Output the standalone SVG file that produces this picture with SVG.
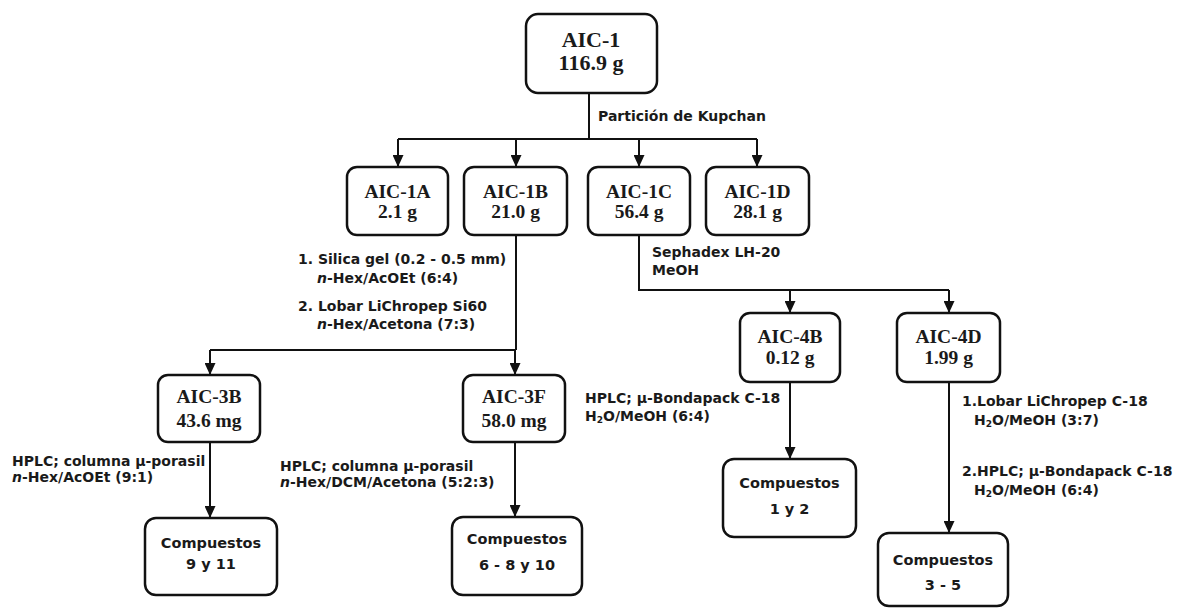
<svg xmlns="http://www.w3.org/2000/svg" width="1179" height="609" viewBox="0 0 1179 609">
<defs>
<marker id="ah" viewBox="0 0 12 11" refX="12" refY="5.5" markerWidth="12" markerHeight="11" markerUnits="userSpaceOnUse" orient="auto">
<path d="M0,0 L12,5.5 L0,11 z" fill="#111"/>
</marker>
<style>
.box{fill:#fff;stroke:#111;stroke-width:2.5}
.ln{fill:none;stroke:#111;stroke-width:2}
.arr{fill:none;stroke:#111;stroke-width:2;marker-end:url(#ah)}
.sv{font-family:"Liberation Serif","Times New Roman",serif;font-weight:bold;font-size:19.5px;fill:#1a1a1a;text-anchor:middle}
.big{font-size:22px}
.lb{font-family:"DejaVu Sans",Verdana,sans-serif;font-weight:bold;font-size:14px;fill:#1a1a1a}
.cp{font-family:"DejaVu Sans",Verdana,sans-serif;font-weight:bold;font-size:14.5px;fill:#1a1a1a;text-anchor:middle}
.it{font-style:italic}
</style>
</defs>
<rect width="1179" height="609" fill="#fff"/>
<g id="connectors">
<path class="ln" d="M589,93 V139 M398,139 H757"/>
<path class="arr" d="M398,139 V167"/>
<path class="arr" d="M516,139 V167"/>
<path class="arr" d="M639,139 V167"/>
<path class="arr" d="M757,139 V167"/>
<path class="ln" d="M516,235 V350 M210,350 H516"/>
<path class="arr" d="M210,350 V375"/>
<path class="arr" d="M515,350 V375"/>
<path class="ln" d="M639,235 V290 H949"/>
<path class="arr" d="M790,290 V313"/>
<path class="arr" d="M949,290 V313"/>
<path class="arr" d="M210,442 V518"/>
<path class="arr" d="M515,442 V517"/>
<path class="arr" d="M790,382 V459"/>
<path class="arr" d="M949,382 V533"/>
</g>
<g id="labels">
<text class="lb" x="598" y="121" font-size="13.5">Partición de Kupchan</text>
<text class="lb" x="298" y="264">1. Silica gel (0.2 - 0.5 mm)</text>
<text class="lb" x="317" y="283"><tspan class="it">n</tspan>-Hex/AcOEt (6:4)</text>
<text class="lb" x="298" y="311">2. Lobar LiChropep Si60</text>
<text class="lb" x="317" y="329"><tspan class="it">n</tspan>-Hex/Acetona (7:3)</text>
<text class="lb" x="652" y="257">Sephadex LH-20</text>
<text class="lb" x="652" y="275">MeOH</text>
<text class="lb" x="12" y="466">HPLC; columna µ-porasil</text>
<text class="lb" x="12" y="482"><tspan class="it">n</tspan>-Hex/AcOEt (9:1)</text>
<text class="lb" x="280" y="471">HPLC; columna µ-porasil</text>
<text class="lb" x="280" y="487"><tspan class="it">n</tspan>-Hex/DCM/Acetona (5:2:3)</text>
<text class="lb" x="585" y="403">HPLC; µ-Bondapack C-18</text>
<text class="lb" x="585" y="421">H<tspan font-size="9" dy="2">2</tspan><tspan dy="-2">O/MeOH (6:4)</tspan></text>
<text class="lb" x="962" y="406">1.Lobar LiChropep C-18</text>
<text class="lb" x="974" y="425">H<tspan font-size="9" dy="2">2</tspan><tspan dy="-2">O/MeOH (3:7)</tspan></text>
<text class="lb" x="962" y="476">2.HPLC; µ-Bondapack C-18</text>
<text class="lb" x="974" y="495">H<tspan font-size="9" dy="2">2</tspan><tspan dy="-2">O/MeOH (6:4)</tspan></text>
</g>
<g id="AIC-1">
<rect class="box" x="526" y="14" width="131" height="79" rx="12"/>
<text class="sv big" x="591" y="47">AIC-1</text>
<text class="sv big" x="591" y="70">116.9 g</text>
</g>
<g id="AIC-1A">
<rect class="box" x="347" y="167" width="101" height="68" rx="10"/>
<text class="sv" x="397.5" y="198">AIC-1A</text>
<text class="sv" x="397.5" y="218">2.1 g</text>
</g>
<g id="AIC-1B">
<rect class="box" x="464" y="167" width="103" height="68" rx="10"/>
<text class="sv" x="515.5" y="198">AIC-1B</text>
<text class="sv" x="515.5" y="218">21.0 g</text>
</g>
<g id="AIC-1C">
<rect class="box" x="588" y="167" width="102" height="68" rx="10"/>
<text class="sv" x="639" y="198">AIC-1C</text>
<text class="sv" x="639" y="218">56.4 g</text>
</g>
<g id="AIC-1D">
<rect class="box" x="706" y="167" width="103" height="68" rx="10"/>
<text class="sv" x="757.5" y="198">AIC-1D</text>
<text class="sv" x="757.5" y="218">28.1 g</text>
</g>
<g id="AIC-3B">
<rect class="box" x="158" y="375" width="102" height="67" rx="10"/>
<text class="sv" x="209" y="403">AIC-3B</text>
<text class="sv" x="209" y="427">43.6 mg</text>
</g>
<g id="AIC-3F">
<rect class="box" x="463" y="375" width="102" height="67" rx="10"/>
<text class="sv" x="514" y="403">AIC-3F</text>
<text class="sv" x="514" y="427">58.0 mg</text>
</g>
<g id="AIC-4B">
<rect class="box" x="740" y="313" width="100" height="69" rx="10"/>
<text class="sv" x="790" y="343">AIC-4B</text>
<text class="sv" x="790" y="364">0.12 g</text>
</g>
<g id="AIC-4D">
<rect class="box" x="897" y="313" width="103" height="69" rx="10"/>
<text class="sv" x="948.5" y="343">AIC-4D</text>
<text class="sv" x="948.5" y="364">1.99 g</text>
</g>
<g id="C-9-11">
<rect class="box" x="145" y="518" width="132" height="77" rx="11"/>
<text class="cp" x="211" y="548">Compuestos</text>
<text class="cp" x="211" y="569">9 y 11</text>
</g>
<g id="C-6-8-10">
<rect class="box" x="452" y="517" width="130" height="78" rx="11"/>
<text class="cp" x="517" y="544">Compuestos</text>
<text class="cp" x="517" y="570">6 - 8 y 10</text>
</g>
<g id="C-1-2">
<rect class="box" x="723" y="459" width="133" height="78" rx="11"/>
<text class="cp" x="789.5" y="488">Compuestos</text>
<text class="cp" x="789.5" y="514">1 y 2</text>
</g>
<g id="C-3-5">
<rect class="box" x="878" y="533" width="130" height="73" rx="11"/>
<text class="cp" x="943" y="565">Compuestos</text>
<text class="cp" x="943" y="590">3 - 5</text>
</g>
</svg>
